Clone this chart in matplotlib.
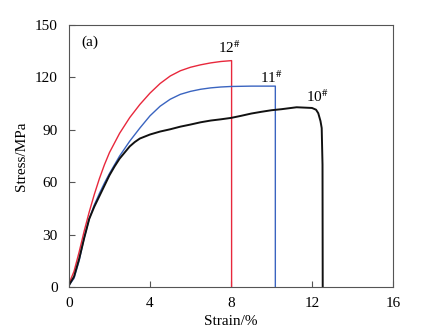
import matplotlib
matplotlib.use("Agg")
import matplotlib.pyplot as plt

plt.rcParams['font.family'] = ['Liberation Serif', 'DejaVu Serif']
plt.rcParams['mathtext.fontset'] = 'stix'

# 12# sample (red)
strain_12 = [0, 0.25, 0.5, 0.75, 1.0, 1.25, 1.5, 1.75, 2.0, 2.5, 3.0, 3.5, 4.0, 4.5, 5.0,
             5.5, 6.0, 6.5, 7.0, 7.5, 8.03, 8.03]
stress_12 = [2, 9, 20, 32, 43, 53, 62, 70, 77, 88, 97, 104.5, 111, 116.5, 120.8,
             123.8, 125.8, 127.2, 128.3, 129.1, 129.6, 0]

# 11# sample (blue)
strain_11 = [0, 0.25, 0.5, 0.75, 1.0, 1.25, 1.5, 1.75, 2.0, 2.5, 3.0, 3.5, 4.0, 4.5, 5.0,
             5.5, 6.0, 6.5, 7.0, 7.5, 8.0, 9.0, 10.19, 10.19]
stress_11 = [1, 5, 15, 28, 39, 47, 53.5, 59.5, 65, 75, 83.5, 91, 98, 103.5, 107.5,
             110.3, 112, 113.2, 114, 114.5, 114.8, 115, 115, 0]

# 10# sample (black)
strain_10 = [0, 0.25, 0.5, 0.75, 1.0, 1.25, 1.5, 1.75, 2.0, 2.25, 2.5, 2.75, 3.0, 3.25, 3.5,
             4.0, 4.5, 5.0, 5.5, 6.0, 6.5, 7.0, 7.5, 8.0, 8.5, 9.0, 9.5, 10.0, 10.5,
             11.24, 12.0, 12.2, 12.31, 12.42, 12.48, 12.52, 12.53]
stress_10 = [1, 6, 16, 28, 39, 46, 52, 58, 64, 69, 73.5, 77, 80.5, 83, 85,
             87.3, 89, 90.3, 91.8, 93, 94.3, 95.3, 96, 96.8, 98, 99.3, 100.3, 101.2, 101.8,
             102.9, 102.5, 101.5, 99.5, 95, 91, 70, 0]

fig = plt.figure(figsize=(4.35, 3.35), dpi=100)
ax = fig.add_axes([0.1586, 0.1433, 0.7448, 0.7821])

ax.plot(strain_12, stress_12, color='#e8283c', lw=1.0)
ax.plot(strain_11, stress_11, color='#3a64c0', lw=1.0)
ax.plot(strain_10, stress_10, color='#111111', lw=1.4)

ax.set_xlim(0, 16)
ax.set_ylim(0, 150)
ax.set_xticks([0, 4, 8, 12, 16])
ax.set_yticks([0, 30, 60, 90, 120, 150])
ax.tick_params(direction='in', labelsize=11, length=4, color='#555555')
ax.tick_params(axis='x', pad=7)
ax.tick_params(axis='y', pad=8)
for s in ax.spines.values():
    s.set_color('#555555')
    s.set_linewidth(0.8)

ax.set_xlabel('Strain/%', fontsize=11, labelpad=4)
ax.set_ylabel('Stress/MPa', fontsize=11, labelpad=5)

ax.text(0.6, 138, '(a)', fontsize=11)
ax.text(7.35, 134, r'12$^{\#}$', fontsize=11)
ax.text(9.45, 117, r'11$^{\#}$', fontsize=11)
ax.text(11.7, 106, r'10$^{\#}$', fontsize=11)

fig.savefig('out.png', dpi=100)
